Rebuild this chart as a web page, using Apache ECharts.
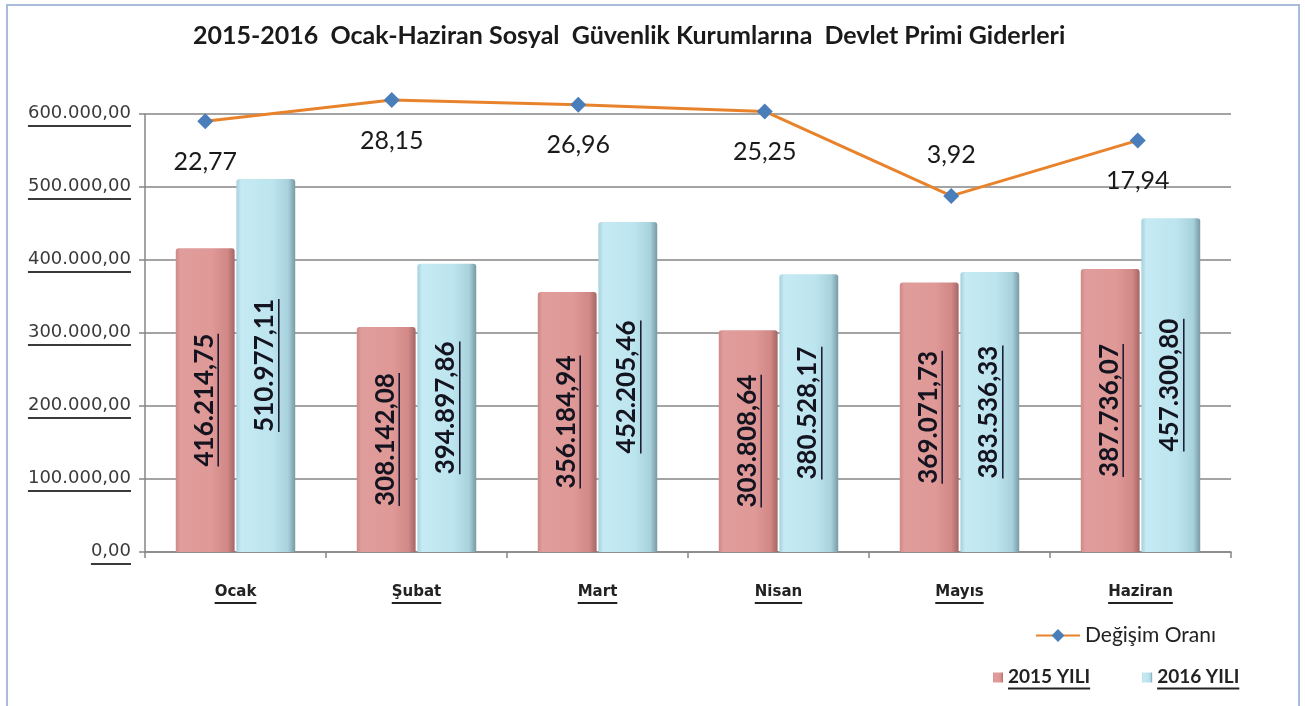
<!DOCTYPE html>
<html>
<head>
<meta charset="utf-8">
<script src="https://cdn.jsdelivr.net/npm/echarts@6/dist/echarts.min.js"></script>
<style>
html, body { margin: 0; padding: 0; background: #fff; }
#frame { position: absolute; left: 6px; top: 4px; width: 1294px; height: 720px; border: 2px solid #a9bcdc; box-sizing: border-box; }
#chart { position: absolute; left: 0; top: 0; width: 1305px; height: 706px; }
</style>
</head>
<body>
<div id="frame"></div>
<div id="chart"></div>
<script>
const months = ['Ocak', 'Şubat', 'Mart', 'Nisan', 'Mayıs', 'Haziran'];
const values2015 = [416214.75, 308142.08, 356184.94, 303808.64, 369071.73, 387736.07];
const values2016 = [510977.11, 394897.86, 452205.46, 380528.17, 383536.33, 457300.80];
const changeRate = [22.77, 28.15, 26.96, 25.25, 3.92, 17.94];

// Turkish number format: 416.214,75
function fmt(v) {
  const parts = Number(v).toFixed(2).split('.');
  return parts[0].replace(/\B(?=(\d{3})+(?!\d))/g, '.') + ',' + parts[1];
}

// rich-text underline: second line, full width of the text line
const underline = (color, h) => ({ width: '100%', height: h, lineHeight: h, align: 'left', backgroundColor: color });

const redFill = {
  type: 'linear', x: 0, y: 0, x2: 1, y2: 0,
  colorStops: [
    { offset: 0, color: '#cf8987' },
    { offset: 0.08, color: '#e09d9b' },
    { offset: 0.6, color: '#df9997' },
    { offset: 0.88, color: '#d18886' },
    { offset: 1, color: '#a36664' }
  ]
};
const blueFill = {
  type: 'linear', x: 0, y: 0, x2: 1, y2: 0,
  colorStops: [
    { offset: 0, color: '#a6d0db' },
    { offset: 0.08, color: '#c5eaf3' },
    { offset: 0.6, color: '#bde5ef' },
    { offset: 0.88, color: '#a7d1dc' },
    { offset: 1, color: '#7899a3' }
  ]
};

const barLabel = {
  show: true,
  position: 'inside',
  rotate: 90,
  formatter: p => '{t|' + fmt(p.value) + '}\n{u|}',
  rich: {
    t: { fontFamily: 'Lato', fontWeight: 'bold', fontSize: 26, color: '#141420', lineHeight: 26 },
    u: underline('#141430', 1.5)
  }
};

const chart = echarts.init(document.getElementById('chart'));
chart.setOption({
  backgroundColor: 'transparent',
  animation: false,
  title: {
    text: '2015-2016  Ocak-Haziran Sosyal  Güvenlik Kurumlarına  Devlet Primi Giderleri',
    left: 188,
    top: 18,
    textStyle: { fontFamily: 'Lato', fontWeight: 'bold', fontSize: 25, color: '#1a1a1a' }
  },
  legend: [
    {
      data: ['Değişim Oranı'],
      left: 1030,
      top: 620,
      itemWidth: 44,
      itemHeight: 16,
      textStyle: { fontFamily: 'Lato', fontSize: 21, color: '#222' }
    },
    {
      data: ['2015 YILI', '2016 YILI'],
      left: 988,
      top: 662,
      itemGap: 52,
      itemWidth: 10,
      itemHeight: 10,
      icon: 'rect',
      formatter: name => '{t|' + name + '}\n{u|}',
      textStyle: {
        rich: {
          t: { fontFamily: 'Lato', fontWeight: 'bold', fontSize: 19, color: '#222', lineHeight: 22 },
          u: underline('#222', 2)
        }
      }
    }
  ],
  grid: [
    { left: 145, right: 74, top: 114, bottom: 154 },
    { left: 112, right: 74, top: 114, bottom: 154 }
  ],
  xAxis: [
    {
      type: 'category',
      gridIndex: 0,
      data: months,
      axisLine: { lineStyle: { color: '#868686', width: 1.5 } },
      axisTick: { show: true, length: 6, lineStyle: { color: '#868686', width: 1.5 } },
      axisLabel: {
        margin: 30,
        formatter: v => '{t|' + v + '}\n{u|}',
        rich: {
          t: { fontFamily: 'DejaVu Sans', fontWeight: 'bold', fontSize: 15, color: '#222', lineHeight: 20 },
          u: underline('#222', 2)
        }
      }
    },
    { type: 'category', gridIndex: 1, data: months, show: false }
  ],
  yAxis: [
    {
      type: 'value',
      gridIndex: 0,
      min: 0,
      max: 600000,
      interval: 100000,
      axisLine: { show: true, lineStyle: { color: '#868686', width: 1.5 } },
      axisTick: { show: true, length: 6, lineStyle: { color: '#868686', width: 1.5 } },
      splitLine: { lineStyle: { color: '#868686', width: 1.5 } },
      axisLabel: {
        margin: 14,
        formatter: v => '{t|' + fmt(v) + '}\n{u|}',
        rich: {
          t: { fontFamily: 'DejaVu Sans', fontSize: 18, color: '#3a3a3a', lineHeight: 24 },
          u: underline('#3a3a3a', 2)
        }
      }
    },
    { type: 'value', gridIndex: 1, min: -86, max: 24.6, show: false, splitLine: { show: false } }
  ],
  series: [
    {
      name: '2015 YILI',
      type: 'bar',
      data: values2015,
      barGap: '3%',
      barCategoryGap: '34%',
      itemStyle: { color: redFill, borderRadius: [3, 3, 0, 0] },
      label: barLabel
    },
    {
      name: '2016 YILI',
      type: 'bar',
      data: values2016,
      itemStyle: { color: blueFill, borderRadius: [3, 3, 0, 0] },
      label: barLabel
    },
    {
      name: 'Değişim Oranı',
      type: 'line',
      xAxisIndex: 1,
      yAxisIndex: 1,
      clip: false,
      z: 5,
      data: changeRate.map(v => (v === Math.min(...changeRate) ? { value: v, label: { position: 'top' } } : v)),
      symbol: 'diamond',
      symbolSize: 16,
      itemStyle: { color: '#4a7ebb' },
      lineStyle: { color: '#e8832c', width: 3 },
      label: {
        show: true,
        position: 'bottom',
        distance: 20,
        formatter: p => String(p.value).replace('.', ','),
        fontFamily: 'Lato',
        fontSize: 25,
        color: '#1a1a1a'
      }
    }
  ]
});
</script>
</body>
</html>
